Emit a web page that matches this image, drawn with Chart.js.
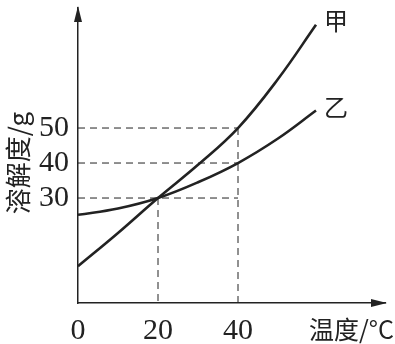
<!DOCTYPE html>
<html>
<head>
<meta charset="utf-8">
<script src="https://cdn.jsdelivr.net/npm/chart.js@4"></script>
<style>
  html, body { margin: 0; padding: 0; background: #fff; }
  #wrap { width: 395px; height: 344px; }
</style>
</head>
<body>
<div id="wrap"><canvas id="chart"></canvas></div>
<script>
// ---- data ----
const temps = [0, 10, 20, 30, 40, 50, 59.5];
const jia = [10.5, 20, 30, 39.5, 50, 64, 79.5];    // 甲
const yi = [25.2, 27, 30, 34.5, 40, 47, 55];        // 乙
const xTicks = [0, 20, 40];
const yTicks = [30, 40, 50];
const seriesNames = ["甲", "乙"];
const xTitle = "温度/°C";
const yTitle = "溶解度/g";

// dashed guide lines: horizontal to 40 °C, vertical down to the axis
const guideHoriz = [50, 40, 30];
const guideVert = [[20, 30], [40, 50]];

const ink = "#222";
const numFont = "'Liberation Serif', 'Noto Sans CJK SC', serif";
const cjkFont = "'Noto Sans CJK SC', 'Liberation Serif', sans-serif";

const toPts = (xs, ys) => xs.map((x, i) => ({ x: x, y: ys[i] }));

const datasets = [];
guideHoriz.forEach(v => datasets.push({
    data: [{ x: 0, y: v }, { x: 40, y: v }],
    borderColor: ink, borderWidth: 1, borderDash: [7, 5], pointRadius: 0
}));
guideVert.forEach(([x, v]) => datasets.push({
    data: [{ x: x, y: v }, { x: x, y: 0 }],
    borderColor: ink, borderWidth: 1, borderDash: [7, 5], pointRadius: 0
}));
datasets.push({
    label: seriesNames[0], data: toPts(temps, jia),
    borderColor: ink, borderWidth: 2.6, pointRadius: 0, tension: 0.4
});
datasets.push({
    label: seriesNames[1], data: toPts(temps, yi),
    borderColor: ink, borderWidth: 2.6, pointRadius: 0, tension: 0.4
});

// arrows, series names and axis titles
const decor = {
    id: 'decor',
    afterDraw(chart) {
        const ctx = chart.ctx;
        const a = chart.chartArea;
        const xs = chart.scales.x, ys = chart.scales.y;
        const ox = xs.getPixelForValue(0), oy = ys.getPixelForValue(0);
        ctx.save();
        ctx.fillStyle = ink;
        // y arrow
        ctx.beginPath();
        ctx.moveTo(ox, a.top - 2);
        ctx.lineTo(ox - 4, a.top + 14);
        ctx.lineTo(ox + 4, a.top + 14);
        ctx.closePath();
        ctx.fill();
        // x arrow
        ctx.beginPath();
        ctx.moveTo(a.right + 2, oy);
        ctx.lineTo(a.right - 14, oy - 4);
        ctx.lineTo(a.right - 14, oy + 4);
        ctx.closePath();
        ctx.fill();

        // series names next to line ends
        ctx.font = "24px " + cjkFont;
        ctx.textBaseline = 'middle';
        ctx.textAlign = 'left';
        [jia, yi].forEach((arr, i) => {
            const px = xs.getPixelForValue(temps[temps.length - 1]);
            const py = ys.getPixelForValue(arr[arr.length - 1]);
            ctx.fillText(seriesNames[i], px + 8, py - 4);
        });

        // x title
        ctx.font = "25px " + cjkFont;
        ctx.textAlign = 'right';
        ctx.textBaseline = 'middle';
        ctx.fillText(xTitle, 394, 329);

        // y title (rotated)
        ctx.translate(18, 163);
        ctx.rotate(-Math.PI / 2);
        ctx.textAlign = 'center';
        ctx.font = "26px " + cjkFont;
        ctx.fillText(yTitle, 0, 0);
        ctx.restore();
    }
};

new Chart(document.getElementById('chart'), {
    type: 'line',
    data: { datasets: datasets },
    options: {
        responsive: true,
        maintainAspectRatio: false,
        animation: false,
        layout: { padding: { top: 8, right: 10, left: 0, bottom: 0 } },
        plugins: { legend: { display: false }, tooltip: { enabled: false } },
        scales: {
            x: {
                type: 'linear', min: 0, max: 76.75,
                grid: { display: false, drawTicks: false },
                border: { display: true, color: ink, width: 1.5 },
                afterBuildTicks: s => { s.ticks = xTicks.map(v => ({ value: v })); },
                afterFit: s => { s.height = 41; s.paddingLeft = 0; s.paddingRight = 0; },
                ticks: { color: ink, padding: 10, maxRotation: 0, font: { family: numFont, size: 30 } }
            },
            y: {
                type: 'linear', min: 0, max: 84.3,
                grid: { display: false, drawTicks: false },
                border: { display: true, color: ink, width: 1.5 },
                afterBuildTicks: s => { s.ticks = yTicks.map(v => ({ value: v })); },
                afterFit: s => { s.width = 78; s.paddingTop = 0; s.paddingBottom = 0; },
                ticks: { color: ink, padding: 9, font: { family: numFont, size: 30 } }
            }
        }
    },
    plugins: [decor]
});
</script>
</body>
</html>
